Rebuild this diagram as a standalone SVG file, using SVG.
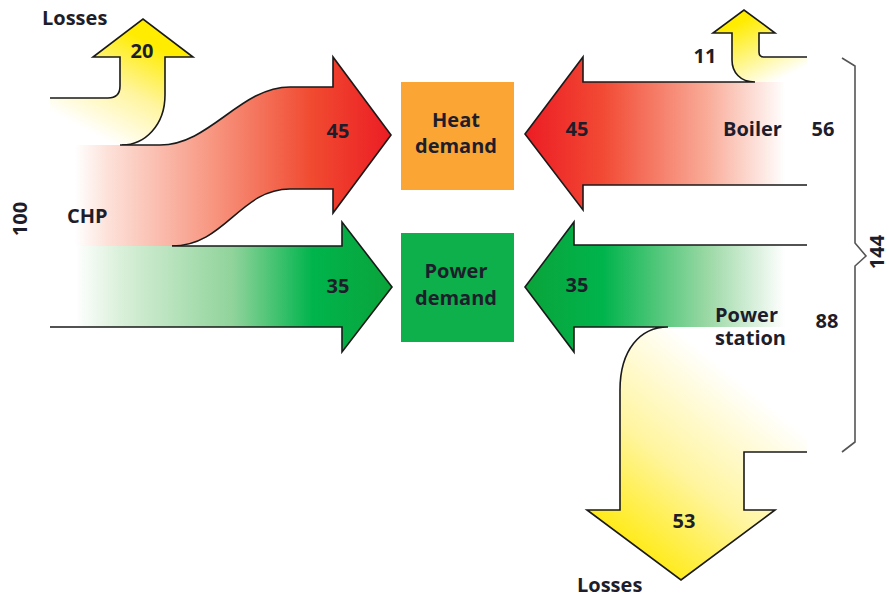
<svg xmlns="http://www.w3.org/2000/svg" width="889" height="597" viewBox="0 0 889 597">
<style>
.t{font-family:"Open Sans","Noto Sans","Liberation Sans",sans-serif;font-weight:700;font-size:20px;fill:#1d1d2b}
.m{text-anchor:middle}
.ol{fill:none;stroke:#1a1a1a;stroke-width:1.6;stroke-linejoin:miter}
.br{fill:none;stroke:#555;stroke-width:1.6}
</style>
<defs>
<linearGradient id="redL" gradientUnits="userSpaceOnUse" x1="75" y1="0" x2="392" y2="0">
<stop offset="0" stop-color="#fff"/><stop offset="0.1" stop-color="#fde2da"/><stop offset="0.45" stop-color="#f7927c"/><stop offset="0.75" stop-color="#f04a30"/><stop offset="1" stop-color="#ec1c24"/>
</linearGradient>
<linearGradient id="greenL" gradientUnits="userSpaceOnUse" x1="75" y1="0" x2="392" y2="0">
<stop offset="0" stop-color="#fff"/><stop offset="0.15" stop-color="#d8efd8"/><stop offset="0.5" stop-color="#8fd39a"/><stop offset="0.75" stop-color="#00b44c"/><stop offset="1" stop-color="#0aa43a"/>
</linearGradient>
<linearGradient id="redR" gradientUnits="userSpaceOnUse" x1="525" y1="0" x2="785" y2="0">
<stop offset="0" stop-color="#ec1c24"/><stop offset="0.3" stop-color="#f24a34"/><stop offset="0.7" stop-color="#f9ab98"/><stop offset="1" stop-color="#fff"/>
</linearGradient>
<linearGradient id="greenR" gradientUnits="userSpaceOnUse" x1="525" y1="0" x2="785" y2="0">
<stop offset="0" stop-color="#0aa43a"/><stop offset="0.3" stop-color="#00b44c"/><stop offset="0.7" stop-color="#9ad8a4"/><stop offset="1" stop-color="#fff"/>
</linearGradient>
<linearGradient id="yelL" gradientUnits="userSpaceOnUse" x1="105" y1="140" x2="155" y2="45">
<stop offset="0" stop-color="#fff"/><stop offset="0.5" stop-color="#fff5a0"/><stop offset="1" stop-color="#ffec00"/>
</linearGradient>
<linearGradient id="yelB" gradientUnits="userSpaceOnUse" x1="744" y1="20" x2="775" y2="82">
<stop offset="0" stop-color="#ffec00"/><stop offset="1" stop-color="#fff"/>
</linearGradient>
<linearGradient id="yelP" gradientUnits="userSpaceOnUse" x1="610" y1="550" x2="745" y2="385">
<stop offset="0" stop-color="#ffe900"/><stop offset="0.5" stop-color="#fff5a0"/><stop offset="1" stop-color="#fff"/>
</linearGradient>
</defs>
<rect width="889" height="597" fill="#fff"/>
<g id="connectors">
<path d="M50,98 L108,98 Q120,98 120,86 L120,57 L93,57 L143,19 L193,57 L165,57 L165,95 C165,125 145,145 122,145 L50,145 Z" fill="url(#yelL)"/>
<path class="ol" d="M50,98 L108,98 Q120,98 120,86 L120,57 L93,57 L143,19 L193,57 L165,57 L165,95 C165,125 145,145 122,145"/>
<path d="M75,145 L160,145 C210,145 240,87 290,87 L333,87 L333,57 L391,135 L333,213 L333,189 L290,189 C240,189 225,246 175,246 L75,246 Z" fill="url(#redL)"/>
<path class="ol" d="M120,145 L160,145 C210,145 240,87 290,87 L333,87 L333,57 L391,135 L333,213 L333,189 L290,189 C240,189 225,246 172,246"/>
<path d="M75,246 L342,246 L342,222 L392,287 L342,352 L342,327 L75,327 Z" fill="url(#greenL)"/>
<path class="ol" d="M172,246 L342,246 L342,222 L392,287 L342,352 L342,327 L50,327"/>
<path d="M807,57 L764,57 Q759,57 759,52 L759,33 L775,33 L744,10 L713,33 L732,33 L732,60 C732,72 740,82 752,82 L807,82 Z" fill="url(#yelB)"/>
<path d="M807,82 L583,82 L583,57 L525,134 L583,210 L583,185 L807,185 Z" fill="url(#redR)"/>
<path class="ol" d="M807,57 L764,57 Q759,57 759,52 L759,33 L775,33 L744,10 L713,33 L732,33 L732,60 C732,72 740,82 755,82 L583,82 L583,57 L525,134 L583,210 L583,185 L807,185"/>
<path d="M807,245 L574,245 L574,222 L525,287 L574,352 L574,327 L807,327 Z" fill="url(#greenR)"/>
<path d="M807,327 L668,327 C640,327 620,350 620,390 L620,510 L587,510 L681,580 L775,510 L744,510 L744,452 L807,452 Z" fill="url(#yelP)"/>
<path class="ol" d="M807,245 L574,245 L574,222 L525,287 L574,352 L574,327 L668,327 C640,327 620,350 620,390 L620,510 L587,510 L681,580 L775,510 L744,510 L744,452 L807,452"/>
<path class="br" d="M842,58 L855,66 L855,243 L866,256 L855,266 L855,442 L842,452"/>
</g>
<g id="heat-demand">
<rect x="401" y="82" width="113" height="108" fill="#fba634"/>
<text class="t m" x="456" y="127">Heat</text>
<text class="t m" x="456" y="153">demand</text>
</g>
<g id="power-demand">
<rect x="401" y="233" width="113" height="109" fill="#0db04b"/>
<text class="t m" x="456" y="278">Power</text>
<text class="t m" x="456" y="305">demand</text>
</g>
<g id="chp">
<text class="t" x="67" y="223">CHP</text>
<text class="t m" transform="translate(27,219) rotate(-90)">100</text>
</g>
<g id="boiler">
<text class="t" x="723" y="136">Boiler</text>
<text class="t m" x="823" y="136">56</text>
</g>
<g id="power-station">
<text class="t" x="715" y="322">Power</text>
<text class="t" x="715" y="345">station</text>
<text class="t m" x="827" y="328">88</text>
</g>
<g id="total">
<text class="t m" transform="translate(884,252) rotate(-90)">144</text>
</g>
<g id="labels">
<text class="t" x="42" y="25">Losses</text>
<text class="t m" x="142" y="58">20</text>
<text class="t m" x="338" y="138">45</text>
<text class="t m" x="338" y="293">35</text>
<text class="t m" x="577" y="136">45</text>
<text class="t m" x="577" y="292">35</text>
<text class="t m" x="705" y="63">11</text>
<text class="t m" x="684" y="528">53</text>
<text class="t" x="577" y="592">Losses</text>
</g>
</svg>
